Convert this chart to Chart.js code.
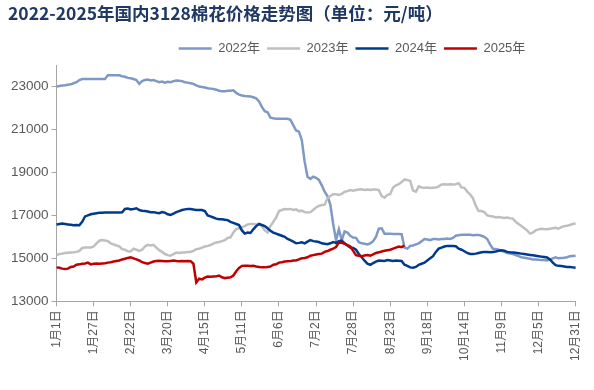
<!DOCTYPE html>
<html>
<head>
<meta charset="utf-8">
<script src="https://cdn.jsdelivr.net/npm/chart.js@4/dist/chart.umd.min.js"></script>
<style>
    html,body{ margin:0; padding:0; background:#fff; }
    #wrap{ width:594px; height:390px; position:relative; }
</style>
</head>
<body>
<div id="wrap"><canvas id="cottonChart"></canvas></div>
<script>
// ======================================================
// DATA  (one point every 2 days, 1月1日 .. 12月31日)
// ======================================================

const tickLabels = ["1月1日","1月27日","2月22日","3月20日","4月15日","5月11日","6月6日",
    "7月2日","7月28日","8月23日","9月18日","10月14日","11月9日","12月5日","12月31日"];

const tickEvery = 13;

const yTicks = [13000,15000,17000,19000,21000,23000];

const seriesNames = ["2022年","2023年","2024年","2025年"];

const price2022 = [
23000,23020,23050,23060,23080,23100,23150,23200,23300,23350,23350,23350,23350,23350,23350,23350,23350,23350,23520,23520,
23520,23520,23520,23480,23450,23400,23380,23350,23300,23120,23250,23300,23320,23280,23300,23250,23200,23230,23180,23220,
23200,23250,23280,23270,23250,23200,23180,23150,23120,23050,23000,22980,22950,22920,22900,22880,22850,22800,22780,22780,
22800,22800,22820,22700,22620,22580,22560,22550,22530,22500,22450,22300,22050,21850,21800,21550,21520,21500,21500,21500,
21500,21500,21450,21200,20950,20900,20500,19500,18800,18700,18800,18750,18650,18400,18100,17900,17500,16600,15850,16350,
15850,16250,16200,16050,15970,15950,15750,15700,15680,15650,15700,15800,16000,16380,16400,16150,16150,16150,16130,16130,
16130,16120,15500,15450,15580,15600,15650,15700,15800,15900,15880,15850,15900,15900,15880,15900,15900,15920,15900,15950,
16050,16080,16100,16100,16100,16100,16080,16090,16090,16050,16000,15900,15650,15450,15430,15400,15350,15300,15250,15230,
15200,15150,15100,15050,15030,15000,14980,14950,14950,14930,14920,14920,14900,14950,15000,15050,15000,15020,15030,15050,
15100,15110,15120];

const price2023 = [
15150,15200,15220,15250,15260,15270,15280,15300,15350,15480,15500,15500,15500,15550,15700,15820,15850,15830,15800,15700,
15650,15600,15560,15430,15400,15330,15320,15450,15400,15350,15400,15550,15630,15600,15630,15500,15380,15300,15200,15150,
15120,15200,15270,15250,15270,15270,15300,15300,15350,15430,15450,15500,15550,15580,15620,15680,15740,15760,15800,15850,
15950,15980,16200,16360,16400,16450,16500,16580,16600,16600,16580,16600,16500,16300,16200,16500,16700,16900,17200,17250,
17300,17280,17300,17250,17280,17200,17220,17150,17130,17150,17250,17370,17440,17480,17500,17800,17900,17980,17980,17950,
18000,18100,18130,18180,18150,18180,18200,18210,18180,18200,18180,18200,18200,18180,17900,17820,17950,18000,18300,18400,
18450,18550,18670,18650,18600,18150,18100,18350,18300,18290,18300,18280,18290,18300,18350,18440,18450,18440,18450,18440,
18450,18500,18300,18280,18100,17980,17800,17450,17200,17200,17150,17000,16970,16950,16900,16920,16900,16880,16900,16870,
16850,16700,16600,16500,16400,16300,16150,16200,16300,16350,16380,16360,16350,16380,16400,16420,16380,16450,16500,16520,
16550,16600,16620];

const price2024 = [
16580,16600,16620,16600,16580,16560,16540,16550,16540,16700,16950,17000,17050,17080,17100,17120,17120,17130,17130,17130,
17130,17130,17130,17140,17300,17320,17280,17300,17330,17250,17220,17200,17180,17150,17150,17120,17100,17150,17130,17050,
17020,17080,17150,17200,17250,17280,17300,17300,17270,17250,17250,17250,17200,17000,16950,16900,16850,16820,16820,16800,
16780,16700,16650,16600,16550,16300,16150,16200,16180,16350,16500,16600,16550,16500,16400,16280,16200,16150,16100,16050,
16000,15900,15850,15780,15700,15720,15750,15700,15780,15850,15800,15780,15760,15700,15680,15660,15700,15760,15720,15800,
15830,15700,15600,15500,15480,15400,15200,15050,14890,14750,14700,14780,14850,14900,14890,14880,14920,14900,14880,14900,
14890,14880,14700,14650,14580,14560,14600,14700,14750,14800,14900,15000,15100,15300,15450,15500,15550,15580,15580,15570,
15560,15450,15400,15330,15250,15200,15200,15220,15250,15280,15300,15300,15280,15300,15320,15350,15380,15360,15300,15280,
15270,15260,15240,15220,15200,15180,15160,15140,15120,15100,15080,15060,15040,14950,14800,14680,14650,14640,14620,14600,
14600,14580,14560];

const price2025 = [
14580,14560,14520,14500,14520,14600,14620,14700,14720,14750,14760,14800,14720,14750,14760,14750,14760,14770,14800,14820,
14850,14880,14900,14950,14980,15020,15050,15000,14950,14900,14820,14780,14750,14800,14850,14880,14890,14880,14870,14860,
14880,14900,14880,14870,14880,14860,14880,14870,14750,13880,14050,14020,14100,14150,14140,14150,14160,14200,14120,14080,
14100,14120,14200,14400,14550,14650,14660,14650,14640,14650,14620,14600,14580,14580,14600,14620,14700,14720,14800,14820,
14850,14860,14870,14900,14900,14950,15000,15020,15050,15120,15150,15180,15200,15220,15300,15340,15400,15450,15520,15740,
15720,15680,15620,15550,15350,15150,15120,15100,15130,15150,15120,15180,15250,15280,15320,15350,15380,15400,15450,15500,
15550,15520,15600];

const seriesColors = ["#7F99C6","#BFBFBF","#003A8C","#C00000"];

// ======================================================
// BUILD CHART
// ======================================================

const pointCount = (tickLabels.length - 1) * tickEvery + 1;

const labels = Array.from({length:pointCount},(_,i)=>i);

const allSeries = [price2022,price2023,price2024,price2025];

const fontFamily = "'Liberation Sans', Arial, 'Noto Sans CJK SC', sans-serif";

// legend in the reference sits right of centre
const legendShift = {
    id:"legendShift",
    afterLayout(chart){
        chart.legend.left += 58;
        chart.legend.right += 58;
    }
};

new Chart(document.getElementById("cottonChart"),{

    type:"line",

    plugins:[legendShift],

    data:{
        labels:labels,
        datasets:allSeries.map((values,k)=>({
            label:seriesNames[k],
            data:values,
            borderColor:seriesColors[k],
            backgroundColor:seriesColors[k],
            borderWidth:2.5,
            pointRadius:0,
            tension:0,
            order:3-k
        }))
    },

    options:{
        responsive:true,
        maintainAspectRatio:false,
        animation:false,
        layout:{
            padding:{left:8,right:14,top:3,bottom:25}
        },
        plugins:{
            title:{
                display:true,
                text:"2022-2025年国内3128棉花价格走势图（单位：元/吨）",
                align:"start",
                color:"#1F3864",
                font:{family:"'Noto Sans CJK SC', sans-serif",size:17.5,weight:"bold"},
                padding:{top:0,bottom:11}
            },
            legend:{
                display:true,
                position:"top",
                labels:{
                    usePointStyle:true,
                    pointStyle:"line",
                    pointStyleWidth:33,
                    color:"#595959",
                    font:{family:fontFamily,size:13},
                    padding:7,
                    sort:(a,b)=>a.datasetIndex-b.datasetIndex
                }
            },
            tooltip:{enabled:false}
        },
        scales:{
            x:{
                type:"category",
                grid:{
                    drawOnChartArea:false,
                    drawTicks:true,
                    tickLength:5,
                    color:"#A6A6A6"
                },
                border:{color:"#A6A6A6"},
                ticks:{
                    autoSkip:false,
                    maxRotation:90,
                    minRotation:90,
                    padding:4,
                    color:"#595959",
                    font:{family:fontFamily,size:12},
                    callback:(v,i)=> i % tickEvery === 0 ? tickLabels[i/tickEvery] : null
                }
            },
            y:{
                min:13000,
                max:24000,
                grid:{
                    drawOnChartArea:false,
                    drawTicks:true,
                    tickLength:5,
                    color:"#A6A6A6"
                },
                border:{color:"#A6A6A6"},
                afterBuildTicks:axis=>{
                    axis.ticks = yTicks.map(v=>({value:v}));
                },
                ticks:{
                    padding:3,
                    color:"#595959",
                    font:{family:fontFamily,size:13.5},
                    callback:v=>String(v)
                }
            }
        }
    }

});
</script>
</body>
</html>
